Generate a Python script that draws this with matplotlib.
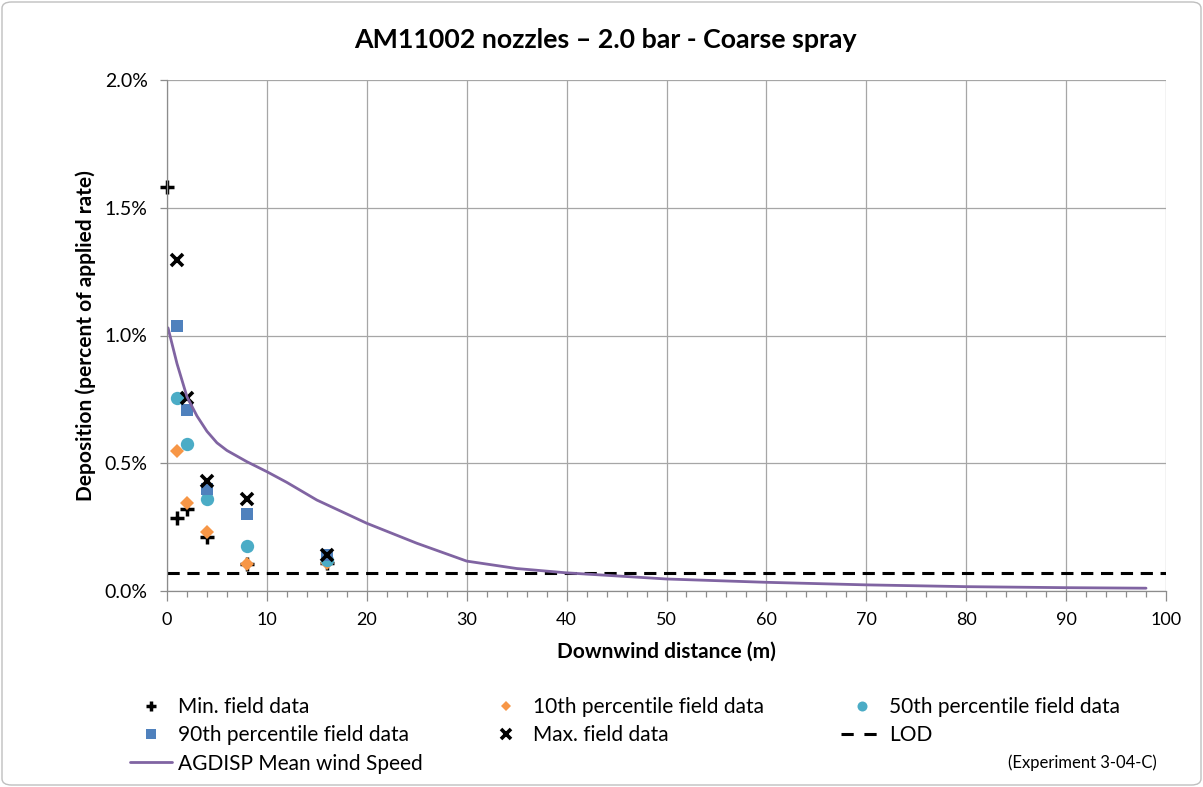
import matplotlib
matplotlib.use("Agg")
import matplotlib.pyplot as plt
from matplotlib.ticker import MultipleLocator, FuncFormatter
from matplotlib.patches import FancyBboxPatch
from matplotlib.lines import Line2D

plt.rcParams['font.family'] = ['Lato', 'DejaVu Sans']

# ---- data (deposition, % of applied rate) ----
min_x = [0, 1, 2, 4, 8, 16]
min_y = [1.58, 0.285, 0.32, 0.213, 0.105, 0.11]

p10_x = [1, 2, 4, 8, 16]
p10_y = [0.548, 0.346, 0.23, 0.104, 0.11]

p50_x = [1, 2, 4, 8, 16]
p50_y = [0.754, 0.574, 0.359, 0.177, 0.121]

p90_x = [1, 2, 4, 8, 16]
p90_y = [1.037, 0.708, 0.398, 0.301, 0.141]

max_x = [1, 2, 4, 8, 16]
max_y = [1.296, 0.754, 0.432, 0.359, 0.141]

lod_x = [0, 100]
lod_y = [0.069, 0.069]

agd_x = [0.1, 1, 2, 3, 4, 5, 6, 8, 10, 12, 15, 20, 25, 30, 35, 40, 50, 60, 70, 80, 90, 98]
agd_y = [1.03, 0.89, 0.76, 0.685, 0.625, 0.58, 0.55, 0.506, 0.467, 0.425, 0.356, 0.265,
         0.187, 0.117, 0.088, 0.071, 0.047, 0.034, 0.024, 0.017, 0.013, 0.011]

title = "AM11002 nozzles \u2013 2.0 bar - Coarse spray"
xlabel = "Downwind distance (m)"
ylabel = "Deposition (percent of applied rate)"
note = "(Experiment 3-04-C)"

W, H = 1203, 787
fig = plt.figure(figsize=(W / 100, H / 100), dpi=100)
ax = fig.add_axes([167 / W, 1 - 591 / H, (1166 - 167) / W, (591 - 80) / H])

gridc = '#a6a6a6'
ax.set_xlim(0, 100)
ax.set_ylim(0, 2.0)
ax.xaxis.set_major_locator(MultipleLocator(10))
ax.xaxis.set_minor_locator(MultipleLocator(2))
ax.yaxis.set_major_locator(MultipleLocator(0.5))
ax.yaxis.set_major_formatter(FuncFormatter(lambda v, p: f"{v:.1f}%"))
ax.grid(True, which='major', color=gridc, lw=0.9)
ax.set_axisbelow(True)
for s in ['top', 'right']:
    ax.spines[s].set_visible(False)
for s in ['left', 'bottom']:
    ax.spines[s].set_color('#8c8c8c')
    ax.spines[s].set_linewidth(0.9)
ax.tick_params(axis='x', which='major', length=7, width=0.9, color='#8c8c8c',
               labelsize=13, pad=8)
ax.tick_params(axis='x', which='minor', length=4, width=0.9, color='#8c8c8c')
ax.tick_params(axis='y', which='major', length=5, width=0.9, color='#8c8c8c',
               labelsize=14, pad=9)

kw = dict(ls='none', clip_on=False)
h_min, = ax.plot(min_x, min_y, marker='+', ms=9.5, mew=2.5, color='black',
                 label='Min. field data', **kw)
h_p10, = ax.plot(p10_x, p10_y, marker='D', ms=7, mew=0, color='#F79646',
                 label='10th percentile field data', **kw)
h_p50, = ax.plot(p50_x, p50_y, marker='o', ms=9.6, mew=0, color='#4BACC6',
                 label='50th percentile field data', **kw)
h_p90, = ax.plot(p90_x, p90_y, marker='s', ms=8.8, mew=0, color='#4F81BD',
                 label='90th percentile field data', **kw)
h_max, = ax.plot(max_x, max_y, marker='x', ms=9, mew=2.6, color='black',
                 label='Max. field data', **kw)
h_lod, = ax.plot(lod_x, lod_y, ls=(0, (4, 2.5)), lw=2.2, color='black', label='LOD')
h_agd, = ax.plot(agd_x, agd_y, ls='-', lw=2.0, color='#8064A2',
                 label='AGDISP Mean wind Speed', solid_capstyle='round',
                 solid_joinstyle='round')

# legend proxy for LOD (two dashes like the reference legend)
h_lod_leg = Line2D([], [], ls=(0, (4, 3.5)), lw=2.2, color='black', label='LOD')

fig.text(605 / W, 1 - 40 / H, title, ha='center', va='center',
         fontsize=19.3, fontweight='bold')
ax.set_xlabel(xlabel, fontsize=15, fontweight='bold', labelpad=10)
ax.set_ylabel(ylabel, fontsize=15, fontweight='bold', labelpad=6)

cols = [
    ([h_min, h_p90, h_agd], 130),
    ([h_p10, h_max], 485),
    ([h_p50, h_lod_leg], 841),
]
for hs, xpx in cols:
    fig.legend(handles=hs, labels=[h.get_label() for h in hs], loc='upper left',
               bbox_to_anchor=(xpx / W, 1 - 697 / H), frameon=False, fontsize=15,
               handlelength=2.0, handletextpad=0.3, labelspacing=0.4,
               markerscale=0.75, borderpad=0, borderaxespad=0)

fig.text(1157 / W, 1 - 763 / H, note, ha='right', va='center', fontsize=12)

fig.patches.append(FancyBboxPatch((2 / W, 2 / H), 1 - 4 / W, 1 - 4 / H,
                                  boxstyle='round,pad=0,rounding_size=0.008',
                                  transform=fig.transFigure, fill=False,
                                  ec='#bfbfbf', lw=1.0))

fig.savefig('out.png', dpi=100)
